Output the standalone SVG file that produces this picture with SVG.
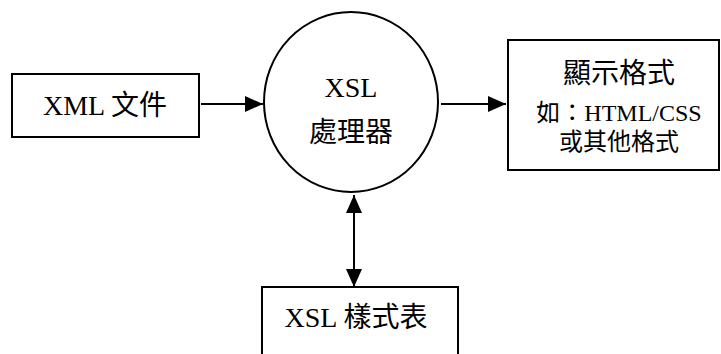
<svg xmlns="http://www.w3.org/2000/svg" width="721" height="354" viewBox="0 0 721 354">
<style>
.box{fill:#fff;stroke:#000;stroke-width:2}
.t{font-family:"Liberation Serif","Noto Sans CJK TC",serif;fill:#000;text-anchor:middle}
.c{stroke:#000;stroke-width:2;fill:none}
</style>
<defs>
<marker id="ah" viewBox="0 0 18 16" refX="18" refY="8" markerWidth="18" markerHeight="16" markerUnits="userSpaceOnUse" orient="auto-start-reverse">
<path d="M0,0 L18,8 L0,16 Z" fill="#000"/>
</marker>
</defs>
<rect width="721" height="354" fill="#fff"/>
<g id="xml">
<rect class="box" x="12" y="74" width="187" height="63"/>
<text class="t" x="105" y="115" font-size="28">XML 文件</text>
</g>
<g id="proc">
<ellipse class="box" cx="351" cy="102" rx="87" ry="90"/>
<text class="t" x="351" y="97" font-size="28">XSL</text>
<text class="t" x="351" y="142" font-size="28">處理器</text>
</g>
<g id="out">
<rect class="box" x="508" y="40" width="211" height="130"/>
<text class="t" x="619" y="83" font-size="28">顯示格式</text>
<text class="t" x="619" y="121" font-size="24">如：HTML/CSS</text>
<text class="t" x="619" y="150" font-size="24">或其他格式</text>
</g>
<g id="xsl">
<rect class="box" x="262" y="287" width="196" height="80"/>
<text class="t" x="356" y="327" font-size="28">XSL 樣式表</text>
</g>
<g id="connectors">
<line class="c" x1="201" y1="104" x2="263" y2="104" marker-end="url(#ah)"/>
<line class="c" x1="441" y1="104" x2="506" y2="104" marker-end="url(#ah)"/>
<line class="c" x1="354" y1="195" x2="354" y2="287" marker-start="url(#ah)" marker-end="url(#ah)"/>
</g>
</svg>
